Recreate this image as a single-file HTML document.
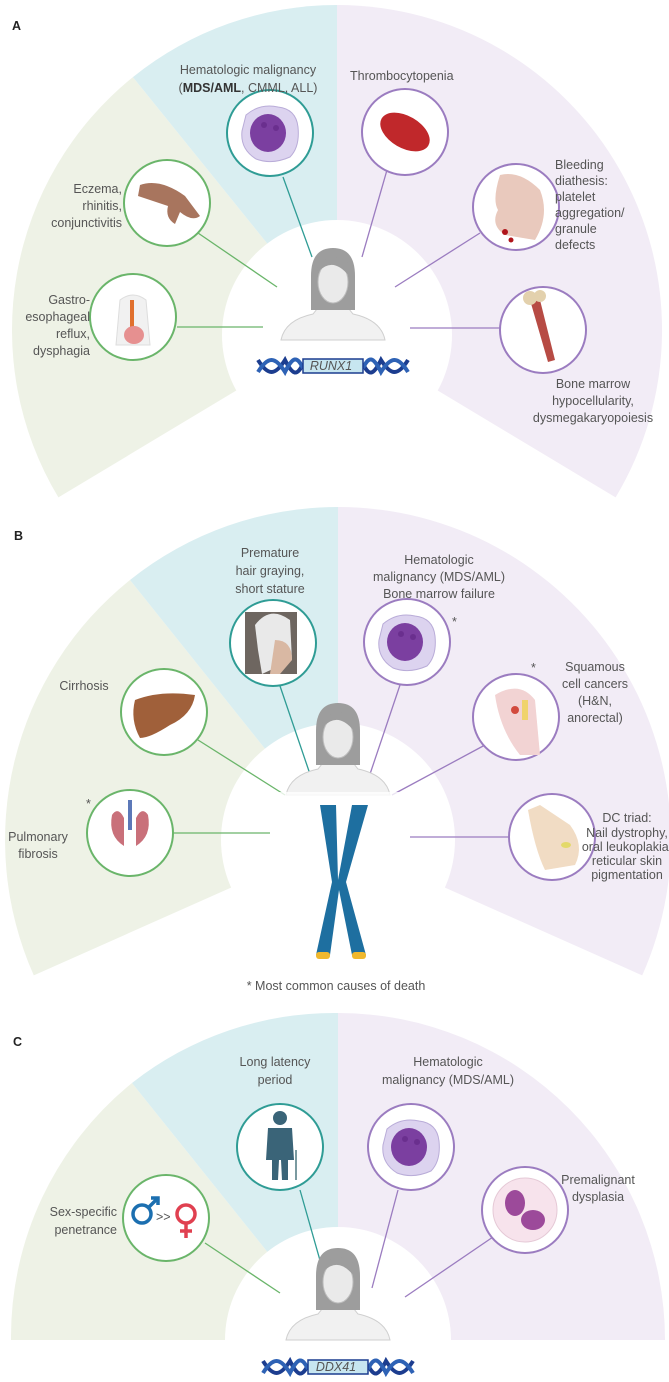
<!DOCTYPE html>
<html><head><meta charset="utf-8"><style>
html,body{margin:0;padding:0;background:#fff;overflow:hidden;width:669px;height:1382px}
svg{display:block}
text{font-family:"Liberation Sans",sans-serif;fill:#555;font-size:12.5px}
.b{font-weight:bold;fill:#222}
</style></head><body>
<svg width="669" height="1382" viewBox="0 0 669 1382" xmlns="http://www.w3.org/2000/svg">
<defs>
<g id="cell">
 <path d="M-24,-18 Q-10,-30 8,-26 Q26,-24 28,-6 Q30,14 20,24 Q2,32 -14,26 Q-30,16 -28,-2 Z" fill="#dcd3ef" stroke="#b9acd8" stroke-width="1"/>
 <ellipse cx="-2" cy="0" rx="18" ry="19" fill="#7b3fa0"/>
 <circle cx="-6" cy="-8" r="3" fill="#6a2f8e"/><circle cx="6" cy="-5" r="3" fill="#6a2f8e"/>
</g>
<g id="person">
 <path d="M-52,50 Q-48,30 -20,24 L-12,14 L12,14 L20,24 Q48,30 52,50 Z" fill="#f1f1f1" stroke="#cfcfcf"/>
 <path d="M-22,-14 Q-22,-42 0,-42 Q22,-42 22,-14 L22,20 L-22,20 Z" fill="#9d9d9d"/>
 <ellipse cx="0" cy="-8" rx="15" ry="21" fill="#eaeaea" stroke="#bdbdbd"/>
 <path d="M-15,-18 Q0,-34 16,-14 L16,-26 Q0,-40 -16,-24 Z" fill="#9d9d9d"/>
</g>
<g id="dna">
 <path d="M-75,-6 C-65,10 -58,10 -48,-6 C-40,10 -36,10 -30,-2" fill="none" stroke="#1c3d8f" stroke-width="4"/>
 <path d="M-75,6 C-65,-10 -58,-10 -48,6 C-40,-10 -36,-10 -30,2" fill="none" stroke="#2e62b5" stroke-width="4"/>
 <path d="M75,-6 C65,10 58,10 48,-6 C40,10 36,10 30,-2" fill="none" stroke="#1c3d8f" stroke-width="4"/>
 <path d="M75,6 C65,-10 58,-10 48,6 C40,-10 36,-10 30,2" fill="none" stroke="#2e62b5" stroke-width="4"/>
 <rect x="-30" y="-7" width="60" height="14" fill="#c7e6f0" stroke="#1c3d8f" stroke-width="1.5"/>
</g>
</defs>

<!-- PANEL A -->
<path d="M337,330 L58.4,497.4 A325,325 0 0 1 132.9,77.1 Z" fill="#eef2e6"/>
<path d="M337,330 L132.9,77.1 A325,325 0 0 1 337,5 Z" fill="#d9eef1"/>
<path d="M337,330 L337,5 A325,325 0 0 1 615.6,497.4 Z" fill="#f2ecf6"/>
<circle cx="337" cy="335" r="115" fill="#fff"/>
<rect x="0" y="498" width="669" height="6" fill="#fff"/>
<text x="12" y="30" class="b" font-size="15">A</text>
<g stroke-width="1.3">
<line x1="283" y1="177" x2="312" y2="257" stroke="#2f9c95"/>
<line x1="198" y1="233" x2="277" y2="287" stroke="#6ab56a"/>
<line x1="177" y1="327" x2="263" y2="327" stroke="#6ab56a"/>
<line x1="389" y1="163" x2="362" y2="257" stroke="#9b7cc0"/>
<line x1="480" y1="233" x2="395" y2="287" stroke="#9b7cc0"/>
<line x1="500" y1="328" x2="410" y2="328" stroke="#9b7cc0"/>
</g>
<circle cx="270" cy="133" r="43" fill="#fff" stroke="#2f9c95" stroke-width="2"/>
<use href="#cell" x="270" y="133"/>
<circle cx="405" cy="132" r="43" fill="#fff" stroke="#9b7cc0" stroke-width="2"/>
<ellipse cx="405" cy="132" rx="27" ry="16" fill="#c0282b" transform="rotate(30 405 132)"/>
<circle cx="167" cy="203" r="43" fill="#fff" stroke="#6ab56a" stroke-width="2"/>
<path d="M140,185 Q160,178 185,196 L200,216 Q192,222 180,212 L175,224 Q165,218 168,206 Q150,200 138,196 Z" fill="#a8755e"/>
<circle cx="133" cy="317" r="43" fill="#fff" stroke="#6ab56a" stroke-width="2"/>
<path d="M120,300 Q133,290 146,300 L150,345 L116,345 Z" fill="#f1f1f1" stroke="#ddd"/>
<rect x="130" y="300" width="4" height="30" fill="#e0702e"/>
<ellipse cx="134" cy="335" rx="10" ry="9" fill="#e69090"/>
<circle cx="516" cy="207" r="43" fill="#fff" stroke="#9b7cc0" stroke-width="2"/>
<path d="M500,175 Q520,170 540,190 Q550,215 535,240 L505,235 Q490,225 498,210 Q492,200 500,175 Z" fill="#e9c9bd"/>
<circle cx="505" cy="232" r="3" fill="#b0151b"/><circle cx="511" cy="240" r="2.5" fill="#b0151b"/>
<circle cx="543" cy="330" r="43" fill="#fff" stroke="#9b7cc0" stroke-width="2"/>
<path d="M530,300 L540,300 L555,360 L548,362 Z" fill="#b74b44"/>
<circle cx="530" cy="298" r="7" fill="#e3d1ad"/><circle cx="540" cy="296" r="6" fill="#e3d1ad"/>
<use href="#person" x="333" y="290"/>
<use href="#dna" x="333" y="366"/>
<text x="331" y="370" text-anchor="middle" font-size="8" font-style="italic" fill="#234">RUNX1</text>
<text x="248" y="74" text-anchor="middle">Hematologic malignancy</text>
<text x="248" y="92" text-anchor="middle">(<tspan font-weight="bold" fill="#333">MDS/AML</tspan>, CMML, ALL)</text>
<text x="350" y="80">Thrombocytopenia</text>
<g text-anchor="end"><text x="122" y="193">Eczema,</text><text x="122" y="210">rhinitis,</text><text x="122" y="227">conjunctivitis</text>
<text x="90" y="304">Gastro-</text><text x="90" y="321">esophageal</text><text x="90" y="338">reflux,</text><text x="90" y="355">dysphagia</text></g>
<g><text x="555" y="169">Bleeding</text><text x="555" y="185">diathesis:</text><text x="555" y="201">platelet</text><text x="555" y="217">aggregation/</text><text x="555" y="233">granule</text><text x="555" y="249">defects</text></g>
<g text-anchor="middle"><text x="593" y="388">Bone marrow</text><text x="593" y="405">hypocellularity,</text><text x="593" y="422">dysmegakaryopoiesis</text></g>

<!-- PANEL B -->
<path d="M338,840 L33.8,975.4 A333,333 0 0 1 130,580 Z" fill="#eef2e6"/>
<path d="M338,840 L130,580 A333,333 0 0 1 338,507 Z" fill="#d9eef1"/>
<path d="M338,840 L338,507 A333,333 0 0 1 642.2,975.4 Z" fill="#f2ecf6"/>
<circle cx="338" cy="840" r="117" fill="#fff"/>
<text x="14" y="540" class="b" font-size="15">B</text>
<g stroke-width="1.3">
<line x1="280" y1="686" x2="312" y2="780" stroke="#2f9c95"/>
<line x1="198" y1="740" x2="285" y2="795" stroke="#6ab56a"/>
<line x1="173" y1="833" x2="270" y2="833" stroke="#6ab56a"/>
<line x1="400" y1="685" x2="368" y2="780" stroke="#9b7cc0"/>
<line x1="485" y1="745" x2="392" y2="795" stroke="#9b7cc0"/>
<line x1="509" y1="837" x2="410" y2="837" stroke="#9b7cc0"/>
</g>
<circle cx="273" cy="643" r="43" fill="#fff" stroke="#2f9c95" stroke-width="2"/>
<rect x="245" y="612" width="52" height="62" fill="#6e6660"/>
<path d="M255,625 Q270,605 290,620 L292,660 L262,674 L258,650 Z" fill="#e9e9e9"/>
<path d="M275,640 Q292,640 292,660 L280,674 L270,674 Z" fill="#d9b8a3"/>
<circle cx="407" cy="642" r="43" fill="#fff" stroke="#9b7cc0" stroke-width="2"/>
<use href="#cell" x="407" y="642"/>
<text x="452" y="626">*</text>
<circle cx="164" cy="712" r="43" fill="#fff" stroke="#6ab56a" stroke-width="2"/>
<path d="M135,700 Q160,690 195,695 Q192,715 170,725 Q150,738 140,738 Q130,720 135,700 Z" fill="#a0603a"/>
<circle cx="130" cy="833" r="43" fill="#fff" stroke="#6ab56a" stroke-width="2"/>
<path d="M124,846 Q108,836 112,815 Q118,806 124,818 Z" fill="#c9707a"/><path d="M136,846 Q152,836 148,815 Q142,806 136,818 Z" fill="#c9707a"/>
<rect x="128" y="800" width="4" height="30" fill="#5c78b8"/>
<text x="86" y="808">*</text>
<circle cx="516" cy="717" r="43" fill="#fff" stroke="#9b7cc0" stroke-width="2"/>
<path d="M495,695 Q520,680 535,700 L540,755 L520,755 Q500,730 495,695 Z" fill="#f2d3d3"/>
<circle cx="515" cy="710" r="4" fill="#d24a3d"/><rect x="522" y="700" width="6" height="20" fill="#f0d36c"/>
<text x="531" y="672">*</text>
<circle cx="552" cy="837" r="43" fill="#fff" stroke="#9b7cc0" stroke-width="2"/>
<path d="M528,810 Q535,850 545,870 L575,865 Q585,845 570,825 Q555,815 540,805 Z" fill="#f1dcc4"/>
<ellipse cx="566" cy="845" rx="5" ry="3" fill="#e3d96a"/>
<use href="#person" x="338" y="745"/>
<rect x="270" y="792" width="140" height="12" fill="#fff" opacity="0.8"/>
<path d="M320,805 L336,805 L338,880 L352,805 L368,805 L346,882 L366,955 L352,955 L339,890 L330,955 L316,955 L332,882 Z" fill="#1e6fa0"/>
<rect x="316" y="952" width="14" height="7" rx="3" fill="#f0b82e"/><rect x="352" y="952" width="14" height="7" rx="3" fill="#f0b82e"/>
<g text-anchor="middle"><text x="270" y="557">Premature</text><text x="270" y="575">hair graying,</text><text x="270" y="593">short stature</text>
<text x="439" y="564">Hematologic</text><text x="439" y="581">malignancy (MDS/AML)</text><text x="439" y="598">Bone marrow failure</text>
<text x="84" y="690">Cirrhosis</text>
<text x="38" y="841">Pulmonary</text><text x="38" y="858">fibrosis</text>
<text x="595" y="671">Squamous</text><text x="595" y="688">cell cancers</text><text x="595" y="705">(H&amp;N,</text><text x="595" y="722">anorectal)</text>
<text x="627" y="822">DC triad:</text>
<text x="627" y="837" font-size="10">Nail dystrophy,</text><text x="627" y="851" font-size="10">oral leukoplakia,</text><text x="627" y="865" font-size="10">reticular skin</text><text x="627" y="879" font-size="10">pigmentation</text>
<text x="336" y="990" font-size="10.5" fill="#333">* Most common causes of death</text></g>

<!-- PANEL C -->
<path d="M338,1340 L11,1340 A327,327 0 0 1 132,1083 Z" fill="#eef2e6"/>
<path d="M338,1340 L132,1083 A327,327 0 0 1 338,1013 Z" fill="#d9eef1"/>
<path d="M338,1340 L338,1013 A327,327 0 0 1 665,1340 Z" fill="#f2ecf6"/>
<circle cx="338" cy="1340" r="113" fill="#fff"/>
<rect x="0" y="1341" width="669" height="41" fill="#fff"/>
<text x="13" y="1046" class="b" font-size="15">C</text>
<g stroke-width="1.3">
<line x1="205" y1="1243" x2="280" y2="1293" stroke="#6ab56a"/>
<line x1="300" y1="1190" x2="327" y2="1285" stroke="#2f9c95"/>
<line x1="398" y1="1190" x2="372" y2="1288" stroke="#9b7cc0"/>
<line x1="493" y1="1237" x2="405" y2="1297" stroke="#9b7cc0"/>
</g>
<circle cx="280" cy="1147" r="43" fill="#fff" stroke="#2f9c95" stroke-width="2"/>
<circle cx="280" cy="1118" r="7" fill="#3a6478"/>
<path d="M268,1128 L292,1128 L294,1160 L288,1160 L288,1180 L282,1180 L281,1160 L279,1160 L278,1180 L272,1180 L272,1160 L266,1160 Z" fill="#3a6478"/>
<line x1="296" y1="1150" x2="296" y2="1180" stroke="#7a9aa0" stroke-width="2"/>
<circle cx="411" cy="1147" r="43" fill="#fff" stroke="#9b7cc0" stroke-width="2"/>
<use href="#cell" x="411" y="1147"/>
<circle cx="166" cy="1218" r="43" fill="#fff" stroke="#6ab56a" stroke-width="2"/>
<g fill="none" stroke-width="3.5">
<circle cx="142" cy="1214" r="9" stroke="#1c6fb0"/>
<path d="M149,1207 L158,1198 M151,1198 L158,1198 L158,1205" stroke="#1c6fb0"/>
<circle cx="186" cy="1214" r="9" stroke="#e04050"/>
<path d="M186,1223 L186,1238 M180,1231 L192,1231" stroke="#e04050"/>
</g>
<text x="156" y="1221" font-size="11" fill="#333">&gt;&gt;</text>
<circle cx="525" cy="1210" r="43" fill="#fff" stroke="#9b7cc0" stroke-width="2"/>
<circle cx="525" cy="1210" r="32" fill="#f7e3ec" stroke="#e5c9d6"/>
<ellipse cx="515" cy="1203" rx="10" ry="13" fill="#9c4a9a"/>
<ellipse cx="533" cy="1220" rx="12" ry="10" fill="#9c4a9a"/>
<use href="#person" x="338" y="1290"/>
<use href="#dna" x="338" y="1367"/>
<text x="336" y="1371" text-anchor="middle" font-size="8" font-style="italic" fill="#234">DDX41</text>
<g text-anchor="middle"><text x="275" y="1066">Long latency</text><text x="275" y="1084">period</text>
<text x="448" y="1066">Hematologic</text><text x="448" y="1084">malignancy (MDS/AML)</text>
<text x="598" y="1184">Premalignant</text><text x="598" y="1201">dysplasia</text></g>
<g text-anchor="end"><text x="117" y="1216">Sex-specific</text><text x="117" y="1234">penetrance</text></g>
</svg>
</body></html>
